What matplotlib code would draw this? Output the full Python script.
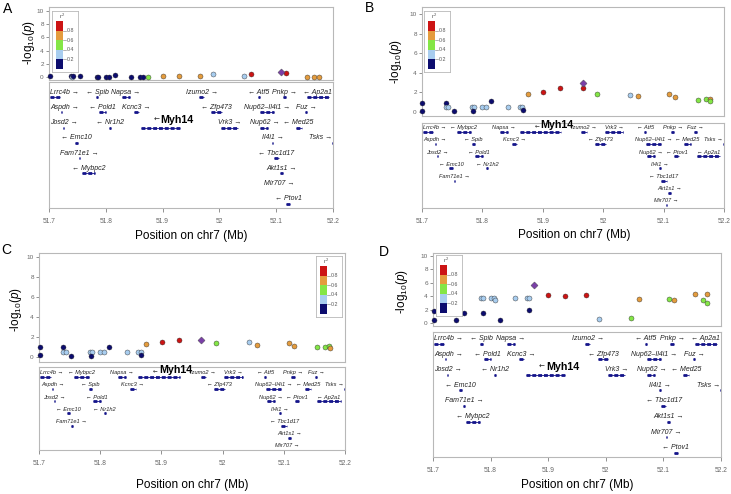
import matplotlib
matplotlib.use('Agg')
import matplotlib.pyplot as plt
from matplotlib.patches import Rectangle

plt.rcParams['font.family'] = ['Liberation Sans', 'DejaVu Sans']
plt.rcParams['mathtext.fontset'] = 'custom'
plt.rcParams['mathtext.rm'] = 'Liberation Sans'
plt.rcParams['mathtext.it'] = 'Liberation Sans:italic'

# ---- SNP data per panel (position Mb, -log10 p, r2) ----
posA = [51.702, 51.739, 51.741, 51.743, 51.754, 51.784, 51.786, 51.800, 51.806, 51.816, 51.844, 51.861,
        51.866, 51.875, 51.900, 51.928, 51.965, 51.988, 52.043, 52.056, 52.108, 52.117, 52.154, 52.167, 52.175]
logpA = [0.15, 0.2, 0.0, 0.1, 0.1, 0.05, 0.05, 0.05, 0.05, 0.35, 0.05, 0.05,
         0.05, 0.05, 0.1, 0.1, 0.1, 0.45, 0.15, 0.5, 0.8, 0.55, 0.0, 0.05, 0.05]
r2A = [0.1, 0.1, 0.3, 0.1, 0.1, 0.1, 0.1, 0.1, 0.1, 0.1, 0.1, 0.1,
       0.1, 0.5, 0.7, 0.7, 0.7, 0.3, 0.3, 0.9, 1.0, 0.9, 0.7, 0.7, 0.7]
leadA = 20

posB = [51.700, 51.700, 51.739, 51.739, 51.743, 51.753, 51.783, 51.786, 51.785, 51.800, 51.806, 51.815,
        51.843, 51.862, 51.866, 51.867, 51.875, 51.901, 51.929, 51.966, 51.966, 51.989, 52.045, 52.057,
        52.109, 52.119, 52.157, 52.170, 52.177, 52.177]
logpB = [0.9, 0.05, 0.9, 0.5, 0.5, 0.05, 0.5, 0.5, 0.05, 0.5, 0.5, 1.1,
         0.5, 0.5, 0.5, 0.2, 1.8, 2.05, 2.4, 3.0, 2.4, 1.8, 1.7, 1.6,
         1.8, 1.5, 1.2, 1.3, 1.3, 1.15]
r2B = [0.1, 0.1, 0.1, 0.3, 0.3, 0.1, 0.3, 0.3, 0.1, 0.3, 0.3, 0.1,
       0.3, 0.3, 0.3, 0.1, 0.7, 0.9, 0.9, 1.0, 0.9, 0.5, 0.3, 0.7,
       0.7, 0.7, 0.5, 0.5, 0.7, 0.5]
leadB = 19

posC = [51.701, 51.701, 51.739, 51.740, 51.744, 51.753, 51.783, 51.786, 51.785, 51.800, 51.806, 51.815,
        51.843, 51.862, 51.866, 51.866, 51.875, 51.901, 51.928, 51.965, 51.989, 52.043, 52.056, 52.109,
        52.117, 52.155, 52.168, 52.174, 52.175]
logpC = [0.97, 0.17, 0.97, 0.5, 0.5, 0.1, 0.5, 0.5, 0.1, 0.5, 0.5, 1.0,
         0.5, 0.5, 0.5, 0.2, 1.33, 1.5, 1.67, 1.7, 1.4, 1.47, 1.2, 1.4,
         1.1, 1.0, 1.03, 1.07, 0.87]
r2C = [0.1, 0.1, 0.1, 0.3, 0.3, 0.1, 0.3, 0.3, 0.1, 0.3, 0.3, 0.1,
       0.3, 0.3, 0.3, 0.1, 0.7, 0.9, 0.9, 1.0, 0.5, 0.3, 0.7, 0.7,
       0.7, 0.5, 0.5, 0.5, 0.7]
leadC = 19

posD = [51.702, 51.702, 51.740, 51.753, 51.783, 51.787, 51.786, 51.800, 51.806, 51.807, 51.816, 51.843,
        51.863, 51.867, 51.867, 51.875, 51.900, 51.929, 51.965, 51.989, 52.044, 52.057, 52.109, 52.118,
        52.155, 52.169, 52.175, 52.176]
logpD = [1.75, 0.5, 0.5, 1.5, 3.73, 3.73, 1.5, 3.73, 3.73, 3.5, 0.5, 3.73,
         3.73, 3.73, 1.95, 5.67, 4.2, 4.1, 4.2, 0.6, 0.8, 3.6, 3.6, 3.5,
         4.3, 3.5, 4.3, 2.95]
r2D = [0.1, 0.1, 0.1, 0.1, 0.3, 0.3, 0.1, 0.3, 0.3, 0.3, 0.1, 0.3,
       0.3, 0.3, 0.1, 1.0, 0.9, 0.9, 0.9, 0.3, 0.5, 0.7, 0.5, 0.7,
       0.7, 0.5, 0.7, 0.5]
leadD = 15

# ---- genes ----
gene_names = ['Lrrc4b', 'Aspdh', 'Josd2', 'Emc10', 'Fam71e1', 'Mybpc2', 'Spib', 'Pold1', 'Nr1h2',
              'Napsa', 'Kcnc3', 'Myh14', 'Izumo2', 'Zfp473', 'Vrk3', 'Atf5', 'Nup62\u2013Il4i1',
              'Nup62', 'Il4i1', 'Tbc1d17', 'Akt1s1', 'Mir707', 'Pnkp', 'Ptov1', 'Med25', 'Fuz',
              'Ap2a1', 'Tsks']
gene_start = [51.701, 51.7215, 51.7245, 51.745, 51.7525, 51.758, 51.782, 51.788, 51.806,
              51.829, 51.849, 51.862, 51.964, 51.986, 52.003, 52.068, 52.071,
              52.072, 52.092, 52.096, 52.107, 52.1045, 52.112, 52.118, 52.134, 52.151,
              52.155, 52.198]
gene_end = [51.719, 51.7228, 51.7268, 51.751, 51.755, 51.781, 51.787, 51.801, 51.809,
            51.842, 51.858, 51.930, 51.973, 52.004, 52.033, 52.071, 52.096,
            52.086, 52.095, 52.105, 52.112, 52.1055, 52.118, 52.125, 52.145, 52.155,
            52.193, 52.215]
gene_strand = ['+', '+', '+', '-', '+', '-', '-', '-', '-',
               '+', '+', '-', '+', '-', '+', '-', '+',
               '+', '+', '-', '+', '+', '+', '-', '-', '+',
               '-', '+']
row_wide = [0, 1, 2, 3, 4, 5, 0, 1, 2, 0, 1, 2, 0, 1, 2, 0, 1, 2, 3, 4, 5, 6, 0, 7, 2, 1, 0, 3]
row_compact = [0, 1, 2, 3, 4, 0, 1, 2, 3, 0, 1, 0, 0, 1, 0, 0, 1, 2, 3, 4, 5, 6, 0, 2, 1, 0, 2, 1]

xticks = [51.7, 51.8, 51.9, 52.0, 52.1, 52.2]
xticklabels = ['51.7', '51.8', '51.9', '52', '52.1', '52.2']
r2_bins = [(0.0, 0.2, '#0c0c6e'), (0.2, 0.4, '#a8cdef'), (0.4, 0.6, '#84e646'),
           (0.6, 0.8, '#e49c3e'), (0.8, 1.0, '#cc1414')]
lead_color = '#7a3fa8'
gene_color = '#14148a'
frame = '#b8b8b8'

W, H = 731, 494
fig = plt.figure(figsize=(W / 100, H / 100), dpi=100)


def px_box(x0, y0, x1, y1):
    return [x0 / W, 1 - y1 / H, (x1 - x0) / W, (y1 - y0) / H]


def r2_color(r):
    for lo, hi, c in r2_bins:
        if r < hi or hi == 1.0:
            return c


panels = [
    dict(letter='A', pos=posA, logp=logpA, r2=r2A, lead=leadA,
         sbox=(49, 7, 333, 80), gbox=(49, 82, 333, 208), sylim=(-0.45, 10.6),
         rows=row_wide, gylim=(7.27, -1.0), gfs=5.0, leg=(52, 11),
         ylab=(29, 43), xlab=(191, 236), let=(8, 9)),
    dict(letter='B', pos=posB, logp=logpB, r2=r2B, lead=leadB,
         sbox=(422, 7, 724, 116), gbox=(422, 123, 724, 208), sylim=(-0.41, 10.71),
         rows=row_compact, gylim=(6.25, -0.71), gfs=4.1, leg=(424, 11),
         ylab=(396, 62), xlab=(574, 235), let=(370, 8)),
    dict(letter='C', pos=posC, logp=logpC, r2=r2C, lead=leadC,
         sbox=(39, 253, 345, 362), gbox=(39, 367, 345, 450), sylim=(-0.5, 10.4),
         rows=row_compact, gylim=(6.0, -0.8), gfs=4.1, leg=(316, 256),
         ylab=(16, 310), xlab=(192, 485), let=(6, 250)),
    dict(letter='D', pos=posD, logp=logpD, r2=r2D, lead=leadD,
         sbox=(433, 253, 721, 326), gbox=(433, 332, 721, 457), sylim=(-0.45, 10.45),
         rows=row_wide, gylim=(7.27, -0.75), gfs=5.0, leg=(436, 255),
         ylab=(402, 292), xlab=(577, 485), let=(384, 252)),
]

label_texts = []
for p in panels:
    # association scatter
    ax = fig.add_axes(px_box(*p['sbox']))
    ax.set_xlim(51.7, 52.2)
    ax.set_ylim(*p['sylim'])
    for i, (x, y, r) in enumerate(zip(p['pos'], p['logp'], p['r2'])):
        if i == p['lead']:
            ax.scatter(x, y, s=13, marker='D', color=lead_color, edgecolor='#444444',
                       linewidth=0.3, zorder=4, clip_on=False)
        else:
            ax.scatter(x, y, s=13, color=r2_color(r), edgecolor='#333333',
                       linewidth=0.3, zorder=3, clip_on=False)
    ax.set_xticks([])
    ax.set_yticks([0, 2, 4, 6, 8, 10])
    ax.tick_params(axis='y', labelsize=4.6, colors='#666666', length=2.5, width=0.5, pad=1.2)
    for sp in ax.spines.values():
        sp.set_color(frame)
        sp.set_linewidth(0.8)

    # r2 legend
    lx, ly = p['leg']
    lax = fig.add_axes(px_box(lx, ly, lx + 26, ly + 61))
    lax.set_xlim(0, 26)
    lax.set_ylim(61, 0)
    lax.set_xticks([])
    lax.set_yticks([])
    lax.set_facecolor('white')
    for sp in lax.spines.values():
        sp.set_color(frame)
        sp.set_linewidth(0.6)
    for lo, hi, c in r2_bins:
        lax.add_patch(Rectangle((4, 10 + (1 - hi) * 48), 7, (hi - lo) * 48, color=c, lw=0))
    for v in [0.2, 0.4, 0.6, 0.8]:
        yv = 10 + (1 - v) * 48
        lax.plot([11, 14], [yv, yv], color='#777777', lw=0.4)
        lax.text(15, yv, str(v), fontsize=3.8, va='center', color='#555555')
    lax.text(10.5, 5, 'r$^2$', fontsize=4.2, ha='center', va='center', color='#555555')

    # gene track
    gax = fig.add_axes(px_box(*p['gbox']))
    gax.set_xlim(51.7, 52.2)
    gax.set_ylim(*p['gylim'])
    gax.set_yticks([])
    gax.set_xticks(xticks)
    gax.set_xticklabels(xticklabels)
    gax.tick_params(axis='x', labelsize=4.8, colors='#666666', length=3, width=0.5, pad=4)
    for sp in gax.spines.values():
        sp.set_color(frame)
        sp.set_linewidth(0.8)
    for name, s, e, strand, r in zip(gene_names, gene_start, gene_end, gene_strand, p['rows']):
        gax.plot([s, e], [r, r], color=gene_color, lw=0.6, solid_capstyle='butt')
        gax.plot([s, e], [r, r], color=gene_color, lw=2.0, ls=(0, (1.4, 0.7)),
                 dash_capstyle='butt', solid_capstyle='butt')
        mid = (s + e) / 2
        if name == 'Myh14':
            gax.text(mid - 0.002, r - 0.52, '\u2190', fontsize=p['gfs'], ha='right', va='center',
                     color='#222222', family=['DejaVu Sans'])
            gax.text(mid, r - 0.52, name, fontsize=7.7, fontweight='bold', ha='left',
                     va='center', color='black')
            continue
        lab = f'{name} \u2192' if strand == '+' else f'\u2190 {name}'
        t = gax.text(mid, r - 0.33, lab, fontsize=p['gfs'], style='italic', ha='center',
                     va='center', color='#222222')
        label_texts.append((gax, t))

    fig.text(p['ylab'][0] / W, 1 - p['ylab'][1] / H, r'-log$_{10}$($p$)', rotation=90,
             fontsize=8.5, ha='center', va='center')
    fig.text(p['xlab'][0] / W, 1 - p['xlab'][1] / H, 'Position on chr7 (Mb)',
             fontsize=8.5, ha='center', va='center')
    fig.text(p['let'][0] / W, 1 - p['let'][1] / H, p['letter'], fontsize=10,
             ha='center', va='center')

# keep gene labels inside their track
fig.canvas.draw()
renderer = fig.canvas.get_renderer()
for gax, t in label_texts:
    ext = t.get_window_extent(renderer)
    box = gax.get_window_extent(renderer)
    scale = 0.5 / box.width
    x, y = t.get_position()
    if ext.x0 < box.x0 + 1:
        t.set_position((x + (box.x0 + 1 - ext.x0) * scale, y))
    elif ext.x1 > box.x1 - 1:
        t.set_position((x - (ext.x1 - box.x1 + 1) * scale, y))

fig.savefig('out.png', dpi=100)
